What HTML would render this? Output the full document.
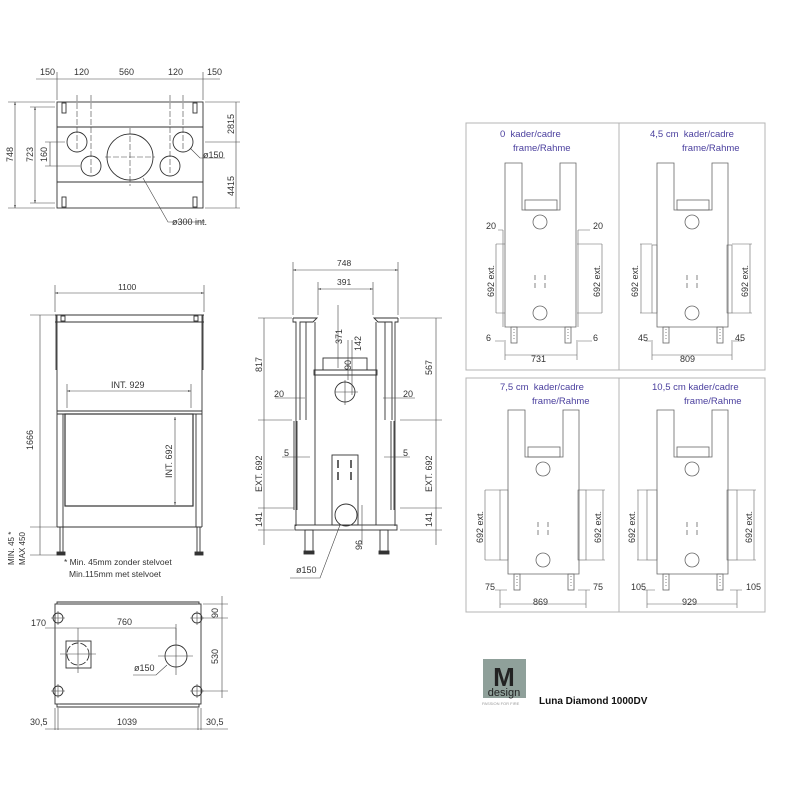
<!DOCTYPE html>
<html><head><meta charset="utf-8"><style>
html,body{margin:0;padding:0;background:#fff;}
svg{display:block;}
text{font-family:"Liberation Sans",sans-serif;font-size:9px;fill:#333;}
.p{fill:#4a3f9e;font-size:9.5px;}
</style></head><body>
<svg width="800" height="800" viewBox="0 0 800 800" xmlns="http://www.w3.org/2000/svg">
<defs>
<marker id="a" markerWidth="6" markerHeight="6" refX="5" refY="3" orient="auto"><path d="M0,1.5 L5,3 L0,4.5Z" fill="#444"/></marker>
<marker id="b" markerWidth="6" markerHeight="6" refX="1" refY="3" orient="auto"><path d="M6,1.5 L1,3 L6,4.5Z" fill="#444"/></marker>
<g id="body" fill="none" stroke="#666" stroke-width="0.8">
<path d="M0,0 H17 V47 H55 V0 H71 V164 H0 Z"/>
<rect x="20" y="37" width="32" height="10"/>
<circle cx="35" cy="59" r="7"/><circle cx="35" cy="150" r="7"/>
<path d="M30,112 v5 M30,120 v5 M40,112 v5 M40,120 v5"/>
<rect x="6" y="164" width="6" height="16"/><rect x="60" y="164" width="6" height="16"/>
<path d="M9,166 v12 M63,166 v12" stroke-dasharray="1 2"/>
</g>
</defs>

<!-- TOP PLAN VIEW -->
<g fill="none" stroke="#333" stroke-width="0.9">
<rect x="57" y="102" width="146" height="106"/>
<path d="M57,127 H203 M57,182 H203"/>
<rect x="62" y="103" width="4" height="10"/><rect x="193" y="103" width="4" height="10"/>
<rect x="62" y="197" width="4" height="10"/><rect x="193" y="197" width="4" height="10"/>
<circle cx="130" cy="157" r="23"/>
<circle cx="77" cy="142" r="10"/><circle cx="91" cy="166" r="10"/>
<circle cx="170" cy="166" r="10"/><circle cx="183" cy="142" r="10"/>
</g>
<g stroke="#444" stroke-width="0.6" fill="none">
<path d="M130,128 V186 M105,157 H155 M77,95 V150 M91,95 V175 M170,95 V175 M183,95 V150" stroke-dasharray="6 2"/>
<path d="M36,79 H220" />
<path d="M57,72 V100 M203,72 V100"/>
<path d="M8,102 H55 M8,208 H55 M30,107 H55 M30,203 H55"/>
<path d="M15,102 V208" marker-start="url(#b)" marker-end="url(#a)"/>
<path d="M35,107 V203" marker-start="url(#b)" marker-end="url(#a)"/>
<path d="M45,142 H65 M45,166 H80 M50,142 V166"/>
<path d="M205,102 H240 M205,142 H240 M205,208 H240 M236,102 V208"/>
<path d="M143,178 L168,222 H205"/>
<path d="M190,148 L200,158 H225"/>
</g>
<text x="40" y="75">150</text><text x="74" y="75">120</text><text x="119" y="75">560</text><text x="168" y="75">120</text><text x="207" y="75">150</text>
<text transform="translate(13,162) rotate(-90)">748</text>
<text transform="translate(33,162) rotate(-90)">723</text>
<text transform="translate(47,162) rotate(-90)">160</text>
<text transform="translate(234,134) rotate(-90)">2815</text>
<text transform="translate(234,196) rotate(-90)">4415</text>
<text x="203" y="158">ø150</text><text x="172" y="225">ø300 int.</text>

<!-- FRONT VIEW -->
<g fill="none" stroke="#333" stroke-width="0.9">
<path d="M55,315 H204 M55,322 H204 M56,315 V370 M203,315 V370 M57,315 V527 M202,315 V527"/>
<rect x="61" y="316" width="4" height="5"/><rect x="194" y="316" width="4" height="5"/>
<path d="M57,411 H202 M57,414 H202"/>
<rect x="65" y="414" width="128" height="92" stroke-width="1.2"/>
<path d="M63,414 V527 M196,414 V527 M57,527 H202"/>
<path d="M60,527 V553 M63,527 V553 M197,527 V553 M200,527 V553"/>
<rect x="57" y="552" width="8" height="3" fill="#333"/><rect x="195" y="552" width="8" height="3" fill="#333"/>
</g>
<g stroke="#444" stroke-width="0.6" fill="none">
<path d="M55,285 V312 M204,285 V312"/>
<path d="M55,293 H204" marker-start="url(#b)" marker-end="url(#a)"/>
<path d="M67,384 V408 M191,384 V408"/>
<path d="M67,391 H191" marker-start="url(#b)" marker-end="url(#a)"/>
<path d="M175,417 V505" marker-start="url(#b)" marker-end="url(#a)"/>
<path d="M30,315 H55 M30,527 H57 M30,555 H57 M40,315 V555"/>
</g>
<text x="118" y="290" style="font-size:8.5px">1100</text>
<text x="111" y="388">INT. 929</text>
<text transform="translate(172,478) rotate(-90)">INT. 692</text>
<text transform="translate(33,450) rotate(-90)">1666</text>
<text transform="translate(14,565) rotate(-90)" style="font-size:8px">MIN. 45 *</text>
<text transform="translate(25,565) rotate(-90)" style="font-size:8px">MAX 450</text>
<text x="64" y="565" style="font-size:8.5px">* Min. 45mm zonder stelvoet</text>
<text x="69" y="577" style="font-size:8.5px">Min.115mm met stelvoet</text>

<!-- SIDE VIEW -->
<g fill="none" stroke="#333" stroke-width="0.9">
<path d="M293,318 H317 L313,322 H300 V420 M293,318 V322 H296 V526"/>
<path d="M398,318 H374 L378,322 H392 V420 M398,318 V322 H395 V526"/>
<path d="M306,322 V420 M315,322 V420 M385,322 V420 M376,322 V420"/>
<rect x="323" y="358" width="44" height="12"/>
<path d="M314,370 H377 V375 H314 Z"/>
<path d="M315,375 V525 M376,375 V525"/>
<path d="M294,421 V510 M297,421 V510 M391,421 V510 M394,421 V510"/>
<circle cx="345" cy="392" r="10"/>
<rect x="332" y="455" width="26" height="70"/>
<path d="M338,460 v8 M338,472 v8 M351,460 v8 M351,472 v8" stroke-width="1.5"/>
<circle cx="346" cy="515" r="11"/>
<rect x="295" y="525" width="102" height="5"/>
<rect x="305" y="530" width="8" height="22"/><rect x="380" y="530" width="8" height="22"/>
<rect x="304" y="551" width="10" height="3" fill="#333"/><rect x="379" y="551" width="10" height="3" fill="#333"/>
</g>
<g stroke="#444" stroke-width="0.6" fill="none">
<path d="M293,262 V315 M398,262 V315 M318,282 V315 M373,282 V315"/>
<path d="M293,270 H398" marker-start="url(#b)" marker-end="url(#a)"/>
<path d="M318,289 H373" marker-start="url(#b)" marker-end="url(#a)"/>
<path d="M338,305 V368 M352,340 V395 M348,340 V380 M335,392 H358 M345,380 V405" />
<path d="M258,318 H292 M258,420 H292 M258,508 H294 M258,530 H294 M264,318 V545"/>
<path d="M400,318 H442 M400,420 H442 M400,508 H442 M400,530 H442 M436,318 V545"/>
<path d="M275,398 H305 M383,398 H415 M282,457 H310 M384,457 H410"/>
<path d="M362,505 V545"/>
<path d="M340,525 L320,578 H290"/>
</g>
<text transform="translate(342,344) rotate(-90)">371</text>
<text transform="translate(361,351) rotate(-90)">142</text>
<text transform="translate(351,370) rotate(-90)">90</text>
<text transform="translate(262,372) rotate(-90)">817</text>
<text transform="translate(262,492) rotate(-90)">EXT. 692</text>
<text transform="translate(262,527) rotate(-90)">141</text>
<text transform="translate(432,375) rotate(-90)">567</text>
<text transform="translate(432,492) rotate(-90)">EXT. 692</text>
<text transform="translate(432,527) rotate(-90)">141</text>
<text x="274" y="397">20</text><text x="403" y="397">20</text>
<text x="284" y="456">5</text><text x="403" y="456">5</text>
<text transform="translate(362,550) rotate(-90)">96</text>
<text x="296" y="573">ø150</text>
<text x="337" y="266" style="font-size:8.5px">748</text>
<text x="337" y="285" style="font-size:8.5px">391</text>

<!-- BOTTOM PLAN VIEW -->
<g fill="none" stroke="#333" stroke-width="0.9">
<rect x="55" y="604" width="146" height="100"/>
<path d="M57,604 V602 H199 V604 M57,704 V707 H199 V704"/>
<path d="M60,604 H197 M60,704 H197"/>
<circle cx="58" cy="618" r="5"/><circle cx="197" cy="618" r="5"/>
<circle cx="58" cy="691" r="5"/><circle cx="197" cy="691" r="5"/>
<rect x="66" y="641" width="25" height="27"/>
<circle cx="78" cy="654" r="11" stroke-dasharray="7 2"/>
<circle cx="176" cy="656" r="11"/>
</g>
<g stroke="#444" stroke-width="0.6" fill="none">
<path d="M51,618 H65 M190,618 H204 M51,691 H65 M190,691 H204 M58,611 V625 M197,611 V625 M58,684 V698 M197,684 V698"/>
<path d="M60,654 H96 M78,628 V673 M158,656 H193 M176,628 V675"/>
<path d="M45,628 H176 M176,624 V640"/>
<path d="M203,604 H228 M203,618 H228 M203,691 H228 M222,596 V698"/>
<path d="M167,665 L156,675 H133"/>
<path d="M55,708 V730 M58,708 V730 M198,708 V730 M201,708 V730"/>
<path d="M45,729 H228"/>
</g>
<text x="31" y="626">170</text><text x="117" y="625">760</text><text x="134" y="671">ø150</text>
<text transform="translate(218,618) rotate(-90)">90</text>
<text transform="translate(218,664) rotate(-90)">530</text>
<text x="30" y="725">30,5</text><text x="117" y="725">1039</text><text x="206" y="725">30,5</text>

<!-- RIGHT PANELS -->
<g fill="none" stroke="#b4b4b4" stroke-width="1">
<rect x="466" y="123" width="153" height="247"/><rect x="619" y="123" width="146" height="247"/>
<rect x="466" y="378" width="153" height="234"/><rect x="619" y="378" width="146" height="234"/>
</g>
<use href="#body" x="505" y="163"/>
<use href="#body" x="657" y="163"/>
<use href="#body" x="508" y="410"/>
<use href="#body" x="657" y="410"/>
<g stroke="#666" stroke-width="0.6" fill="none">
<path d="M496,244 H505 M496,313 H505 M496,244 V313 M577,244 H602 M577,313 H602 M602,244 V313"/>
<path d="M503,230 V327 M578,230 V327 M503,230 H498 M578,230 H590"/>
<path d="M505,340 V360 M577,340 V360 M505,355 H577 M495,341 H504 M578,341 H592"/>
<rect x="652" y="245" width="5" height="68"/><rect x="727" y="245" width="5" height="68"/>
<path d="M640,244 H652 M640,313 H652 M641,244 V313 M732,244 H752 M732,313 H752 M750,244 V313"/>
<path d="M652,340 V360 M732,340 V360 M652,355 H732 M645,341 H651 M733,341 H742"/>
<rect x="500" y="490" width="8" height="70"/><rect x="578" y="490" width="8" height="70"/>
<path d="M485,490 H500 M485,560 H500 M485,490 V560 M586,490 H605 M586,560 H605 M603,490 V560"/>
<path d="M500,590 V608 M586,590 V608 M500,604 H586 M495,590 H507 M578,590 H590"/>
<rect x="647" y="490" width="10" height="70"/><rect x="727" y="490" width="10" height="70"/>
<path d="M637,490 H647 M637,560 H647 M638,490 V560 M737,490 H756 M737,560 H756 M754,490 V560"/>
<path d="M647,590 V608 M737,590 V608 M647,604 H737 M643,590 H655 M730,590 H742"/>
</g>
<text class="p" x="500" y="137">0&#160;&#160;kader/cadre</text><text class="p" x="513" y="151">frame/Rahme</text>
<text class="p" x="650" y="137">4,5 cm&#160;&#160;kader/cadre</text><text class="p" x="682" y="151">frame/Rahme</text>
<text class="p" x="500" y="390">7,5 cm&#160;&#160;kader/cadre</text><text class="p" x="532" y="404">frame/Rahme</text>
<text class="p" x="652" y="390">10,5 cm kader/cadre</text><text class="p" x="684" y="404">frame/Rahme</text>
<text x="486" y="229">20</text><text x="593" y="229">20</text>
<text x="486" y="341">6</text><text x="593" y="341">6</text>
<text x="531" y="362">731</text><text x="680" y="362">809</text>
<text x="638" y="341">45</text><text x="735" y="341">45</text>
<text x="485" y="590">75</text><text x="593" y="590">75</text>
<text x="533" y="605">869</text><text x="682" y="605">929</text>
<text x="631" y="590">105</text><text x="746" y="590">105</text>
<text transform="translate(494,297) rotate(-90)">692 ext.</text>
<text transform="translate(600,297) rotate(-90)">692 ext.</text>
<text transform="translate(638,297) rotate(-90)">692 ext.</text>
<text transform="translate(748,297) rotate(-90)">692 ext.</text>
<text transform="translate(483,543) rotate(-90)">692 ext.</text>
<text transform="translate(601,543) rotate(-90)">692 ext.</text>
<text transform="translate(635,543) rotate(-90)">692 ext.</text>
<text transform="translate(752,543) rotate(-90)">692 ext.</text>

<!-- LOGO -->
<rect x="483" y="659" width="43" height="39" fill="#8fa09a"/>
<text x="504" y="686" text-anchor="middle" style="font-size:26px;font-weight:bold;fill:#222">M</text>
<text x="504" y="696" text-anchor="middle" style="font-size:11px;fill:#222">design</text>
<text x="482" y="705" style="font-size:4px;fill:#999">PASSION FOR FIRE</text>
<text x="539" y="704" style="font-size:10px;font-weight:bold;fill:#111">Luna Diamond 1000DV</text>
</svg>
</body></html>
